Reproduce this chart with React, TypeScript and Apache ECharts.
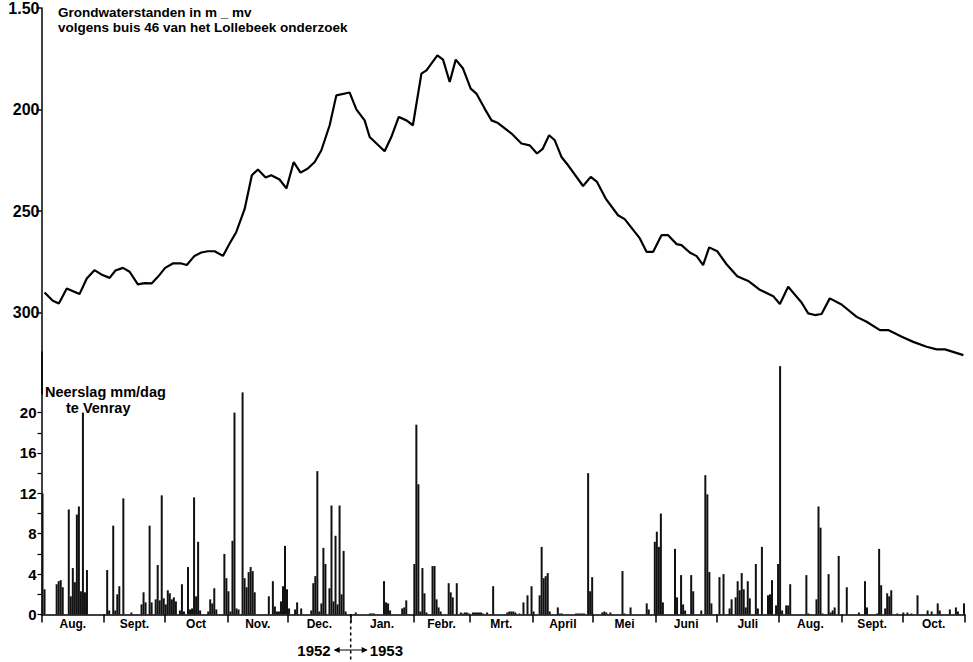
import React, { useEffect, useRef } from "react";
import * as echarts from "echarts";

// Groundwater depth (cm below surface) – day index counted from 1 Aug 1952
const gwDay = [1.5,5.6,8.6,12.5,18.8,22.4,26.2,29.6,33.7,36.6,40.3,43.6,47.7,51.0,54.6,57.6,61.2,65.0,69.2,71.9,75.7,79.1,82.3,85.7,89.8,93.1,96.4,100.5,104.1,107.1,110.9,113.7,117.8,121.2,124.8,128.2,131.8,135.2,138.5,142.6,145.9,152.5,155.8,159.9,162.4,169.8,173.1,176.8,180.6,183.8,188.0,190.5,195.9,198.7,202.0,205.0,208.6,212.4,215.2,219.3,222.7,225.9,232.6,237.5,241.6,245.2,247.9,251.2,254.0,257.3,260.6,268.0,271.8,274.9,279.2,285.3,288.6,296.1,299.4,302.7,306.8,310.1,314.3,316.7,320.8,324.2,327.4,330.4,334.4,339.0,344.3,349.7,355.2,362.1,365.4,369.5,376.1,379.4,382.7,386.0,390.1,395.9,403.4,408.3,414.9,419.0,425.7,431.4,438.0,443.0,447.1,456.2];
const gwDepth = [290.0,294.1,295.4,288.0,290.8,283.1,279.0,281.1,282.8,279.2,277.9,279.8,286.0,285.4,285.5,282.3,277.9,275.7,275.7,276.5,272.0,270.3,269.7,269.7,272.0,265.9,260.2,249.0,232.3,229.5,233.4,232.3,234.4,238.8,225.8,231.0,229.0,225.8,220.0,207.7,193.0,191.6,199.9,205.3,213.5,220.5,213.5,203.6,205.3,207.7,182.3,180.7,173.3,175.4,186.4,175.4,179.8,189.7,192.1,199.5,205.3,206.6,211.8,216.7,217.6,221.6,219.5,212.6,215.1,223.3,227.4,237.6,233.1,235.6,243.8,252.0,253.9,263.4,270.0,270.0,261.8,261.8,266.2,266.7,270.3,272.1,276.5,267.8,269.7,276.1,282.0,284.3,288.5,291.8,295.7,287.2,294.9,300.3,301.1,300.6,292.9,295.9,302.0,304.4,308.5,308.5,311.8,314.3,316.7,318.0,318.0,320.8];

// Daily precipitation at Venray (mm/day) – day index from 1 Aug 1952
const rainDay = [0,1,7,8,9,10,13,14,15,16,17,18,19,20,21,22,32,33,35,36,37,38,40,44,49,50,51,53,54,56,57,58,59,60,61,62,63,64,65,66,68,69,70,72,73,74,75,76,77,78,82,83,84,85,86,90,91,92,93,94,95,96,97,99,100,101,102,103,104,105,112,114,115,116,117,118,119,120,121,122,125,126,128,133,134,135,136,137,138,139,140,142,143,144,145,146,147,148,149,150,155,162,163,164,169,170,171,172,178,179,180,184,185,186,187,188,189,190,193,194,195,196,197,201,202,203,205,207,208,209,210,211,213,214,215,216,217,218,220,223,230,231,232,233,234,236,238,240,242,243,246,247,248,249,250,251,255,256,257,264,265,266,267,268,270,271,272,277,278,279,281,287,288,291,299,300,303,304,305,306,307,313,314,316,317,318,321,322,326,328,329,330,331,335,337,340,341,343,344,345,346,347,348,349,350,353,354,356,359,360,361,363,364,365,366,368,369,370,378,379,383,384,385,386,389,390,391,392,394,398,404,407,408,413,414,415,417,418,419,420,423,426,428,430,433,438,440,443,444,449,452,453,456];
const rainMm = [12.0,2.5,3.0,3.3,3.4,2.7,10.4,1.8,4.6,3.2,9.9,10.7,2.3,20.0,2.2,4.4,4.4,0.4,8.8,0.4,2.0,2.8,11.5,0.2,1.0,2.2,1.2,8.8,1.2,1.5,4.9,1.4,11.8,1.6,1.0,2.4,2.1,1.5,1.7,1.3,0.4,3.0,0.3,4.7,0.5,0.6,11.6,1.8,7.2,0.4,0.3,1.5,1.1,2.6,0.5,6.0,3.6,2.3,0.3,7.3,20.0,0.6,0.5,22.0,3.6,2.7,4.2,4.7,4.3,2.2,1.8,3.3,0.8,0.3,0.3,1.3,2.8,6.8,2.5,0.6,0.5,1.2,0.6,0.4,3.1,3.8,14.2,0.3,1.1,6.6,5.0,2.6,10.8,1.3,7.8,1.0,10.8,2.0,6.3,0.3,0.2,0.1,0.1,0.1,3.3,1.2,1.1,0.4,0.6,0.7,1.4,5.0,18.8,12.9,0.3,4.6,2.1,0.2,4.8,4.8,1.5,0.7,0.3,3.1,2.2,1.7,3.1,0.2,0.1,0.2,0.2,0.1,0.2,0.2,0.2,0.2,0.2,0.1,0.2,2.8,0.2,0.3,0.3,0.3,0.2,0.1,1.2,1.9,2.8,0.3,1.9,6.7,3.6,3.8,4.1,0.3,0.7,0.1,0.1,0.1,0.1,0.1,0.1,0.1,14.0,2.3,3.7,0.2,0.3,0.2,0.2,4.3,0.1,0.7,1.1,0.5,7.2,8.2,6.7,10.0,1.2,6.5,1.7,3.9,1.0,0.4,3.9,2.3,0.4,13.8,11.9,4.2,1.1,3.7,4.0,0.6,1.5,1.7,3.3,2.4,4.1,2.5,0.7,3.3,1.6,5.0,0.6,6.7,1.9,2.0,3.4,0.9,5.0,24.6,0.4,0.9,0.9,3.0,3.9,0.1,1.5,10.7,8.6,0.1,4.0,0.2,0.4,0.7,5.8,2.7,0.2,3.3,0.7,0.1,6.5,2.9,0.6,2.1,1.8,2.4,0.1,0.2,0.2,0.1,1.9,0.4,0.3,1.1,0.4,0.5,0.7,0.3,1.1];

const monthStart = [0,31,61,92,122,153,184,212,243,273,304,334,365,396,426,457];
const monthNames = ["Aug.","Sept.","Oct","Nov.","Dec.","Jan.","Febr.","Mrt.","April","Mei","Juni","Juli","Aug.","Sept.","Oct."];
const depthTicks = [150, 200, 250, 300];
const rainLabels = [0, 4, 8, 12, 16, 20];
const rainTicks = [0, 2, 4, 6, 8, 10, 12, 14, 16, 18, 20];
const yearBreakDay = 153;

const FONT = "'Liberation Sans', Arial, sans-serif";

export default function App() {
  const ref = useRef<HTMLDivElement>(null);
  useEffect(() => {
    if (!ref.current) return;
    const chart = echarts.init(ref.current, null, { renderer: "svg" });
    const mids = monthStart.slice(0, -1).map((s, i) => (s + monthStart[i + 1]) / 2);
    const lineData = gwDay.map((d, i) => [d, gwDepth[i]]);
    const barData = rainDay.map((d, i) => [d + 0.5, rainMm[i]]);
    const black = "#000";
    const titleStyle = (size: number) => ({ fontFamily: FONT, fontSize: size, fontWeight: "bold", color: black, lineHeight: size });
    chart.setOption({
      animation: false,
      backgroundColor: "#fff",
      textStyle: { fontFamily: FONT, color: black },
      title: [
        { text: "Grondwaterstanden in m _ mv", left: 58, top: 6, padding: 0, textStyle: titleStyle(13.5) },
        { text: "volgens buis 46 van het Lollebeek onderzoek", left: 58, top: 20.5, padding: 0, textStyle: titleStyle(13.5) },
        { text: "Neerslag mm/dag", left: 45, top: 385, padding: 0, textStyle: titleStyle(14.5) },
        { text: "te Venray", left: 66, top: 400.5, padding: 0, textStyle: titleStyle(14.5) },
      ],
      grid: [
        { left: 41.5, right: 8, top: 7.6, height: 386.5 },
        { left: 41.5, right: 8, top: 352, height: 262.5 },
      ],
      xAxis: [
        { type: "value", gridIndex: 0, min: 0, max: 457, show: false },
        {
          type: "value", gridIndex: 1, min: 0, max: 457,
          splitLine: { show: false },
          axisLine: { show: true, lineStyle: { color: black, width: 1.5 } },
          axisTick: { show: true, customValues: monthStart, length: 8, lineStyle: { color: black, width: 1.5 } },
          axisLabel: {
            customValues: mids, margin: 3, fontSize: 12, fontWeight: "bold", color: black, fontFamily: FONT,
            formatter: (v: number) => {
              let best = 0;
              mids.forEach((m, i) => { if (Math.abs(m - v) < Math.abs(mids[best] - v)) best = i; });
              return monthNames[best];
            },
          },
        },
      ],
      yAxis: [
        {
          type: "value", gridIndex: 0, inverse: true, min: 150, max: 340, interval: 50,
          splitLine: { show: false },
          axisLine: { show: true, lineStyle: { color: black, width: 1.5 } },
          axisTick: { show: true, customValues: depthTicks, length: 5, lineStyle: { color: black, width: 1.5 } },
          axisLabel: {
            customValues: depthTicks, margin: 2, fontSize: 16, fontWeight: "bold", color: black, fontFamily: FONT,
            formatter: (v: number) => (v === 150 ? "1.50" : String(v)),
          },
        },
        {
          type: "value", gridIndex: 1, min: 0, max: 26, interval: 2,
          splitLine: { show: false },
          axisLine: { show: true, lineStyle: { color: black, width: 1.5 } },
          axisTick: { show: true, customValues: rainTicks, length: 4, lineStyle: { color: black, width: 1.2 } },
          axisLabel: {
            customValues: rainLabels, margin: 5, fontSize: 15, fontWeight: "bold", color: black, fontFamily: FONT,
          },
        },
      ],
      series: [
        {
          type: "line", xAxisIndex: 0, yAxisIndex: 0, data: lineData,
          showSymbol: false, symbol: "none", smooth: false,
          lineStyle: { color: black, width: 2.2 },
        },
        {
          type: "bar", xAxisIndex: 1, yAxisIndex: 1, data: barData,
          barWidth: 2, itemStyle: { color: "#111" }, clip: false,
        },
      ],
    });
    const xj = chart.convertToPixel({ xAxisIndex: 1 }, yearBreakDay) as number;
    const yb = chart.convertToPixel({ yAxisIndex: 1 }, 0) as number;
    const ya = 650;
    chart.setOption({
      graphic: [
        { type: "line", shape: { x1: xj, y1: yb, x2: xj, y2: 662 }, style: { stroke: black, lineWidth: 1.5, lineDash: [3, 3] } },
        { type: "line", shape: { x1: xj - 16, y1: ya, x2: xj + 16, y2: ya }, style: { stroke: black, lineWidth: 1.2 } },
        { type: "polygon", shape: { points: [[xj - 17, ya], [xj - 11, ya - 3], [xj - 11, ya + 3]] }, style: { fill: black } },
        { type: "polygon", shape: { points: [[xj + 17, ya], [xj + 11, ya - 3], [xj + 11, ya + 3]] }, style: { fill: black } },
        { type: "text", x: xj - 20, y: ya, style: { text: "1952", align: "right", verticalAlign: "middle", font: `bold 15px ${FONT}`, fill: black } },
        { type: "text", x: xj + 19, y: ya, style: { text: "1953", align: "left", verticalAlign: "middle", font: `bold 15px ${FONT}`, fill: black } },
      ],
    });
    return () => chart.dispose();
  }, []);
  return <div ref={ref} style={{ position: "absolute", left: 0, top: 0, width: 973, height: 662 }} />;
}
